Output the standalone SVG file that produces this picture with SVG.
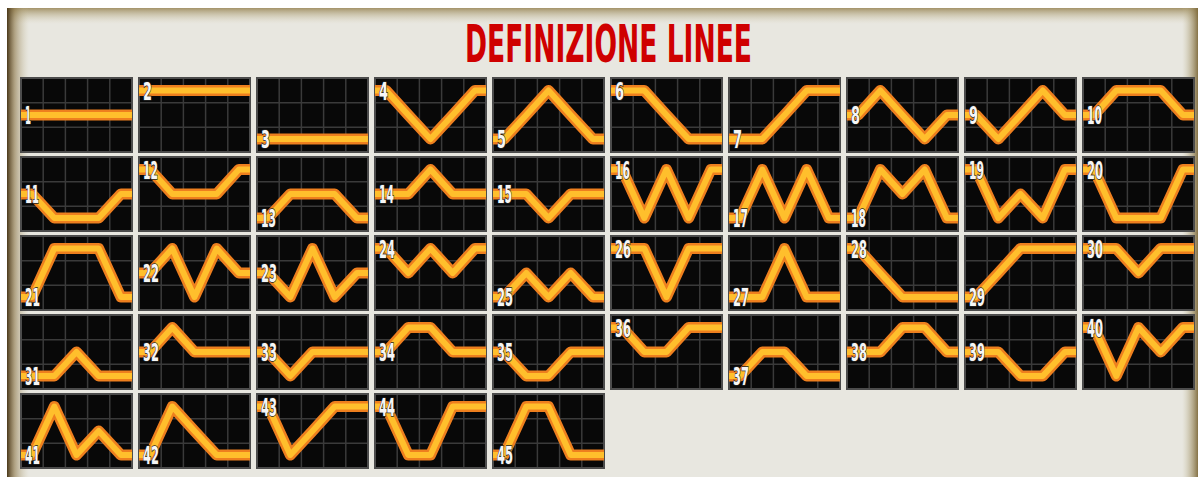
<svg xmlns="http://www.w3.org/2000/svg" xmlns:xlink="http://www.w3.org/1999/xlink" width="1201" height="477" viewBox="0 0 1201 477">
<style>
.o{fill:none;stroke:#ee7f1e;stroke-width:11;stroke-linejoin:round}
.i{fill:none;stroke:#ffbf2c;stroke-width:6;stroke-linejoin:round}
.n{font-family:"DejaVu Sans","Liberation Sans",sans-serif;font-weight:bold;font-size:24px;fill:#f6f6f6;stroke:#222222;stroke-width:1.6;paint-order:stroke}
.t{font-family:"DejaVu Sans","Liberation Sans",sans-serif;font-weight:bold;font-size:52px;fill:#cf0000}
</style>
<defs>
<linearGradient id="gl" x1="0" y1="0" x2="1" y2="0">
<stop offset="0" stop-color="#4a381a" stop-opacity="1"/>
<stop offset="0.35" stop-color="#8a7445" stop-opacity="0.6"/>
<stop offset="1" stop-color="#c9bf9a" stop-opacity="0"/>
</linearGradient>
<linearGradient id="gr" x1="1" y1="0" x2="0" y2="0">
<stop offset="0" stop-color="#7a6535" stop-opacity="0.9"/>
<stop offset="1" stop-color="#c9bf9a" stop-opacity="0"/>
</linearGradient>
<linearGradient id="gt" x1="0" y1="0" x2="0" y2="1">
<stop offset="0" stop-color="#9c8a5c" stop-opacity="0.9"/>
<stop offset="1" stop-color="#d8d2b8" stop-opacity="0"/>
</linearGradient>
<symbol id="tile" overflow="visible">
<rect x="0" y="0" width="111" height="74" fill="#080808"/>
<path d="M22.2 0V74M44.4 0V74M66.6 0V74M88.8 0V74M0 24.67H111M0 49.33H111" stroke="#3a3a3a" stroke-width="1.5" fill="none"/>
<rect x="0" y="0" width="111" height="74" fill="none" stroke="#4c4c4c" stroke-width="2"/>
</symbol>
</defs>
<rect x="0" y="0" width="1201" height="477" fill="#ffffff"/>
<rect x="7" y="8" width="1191" height="469" fill="#e8e7e0"/>
<rect x="7" y="8" width="1191" height="16" fill="url(#gt)"/>
<rect x="7" y="8" width="22" height="469" fill="url(#gl)"/>
<rect x="1182" y="8" width="16" height="469" fill="url(#gr)"/>
<text class="t" x="608.5" y="62" text-anchor="middle" textLength="287" lengthAdjust="spacingAndGlyphs">DEFINIZIONE LINEE</text>
<g id="lines">
<g id="line-1" transform="translate(21,78)"><use href="#tile"/><path class="o" d="M0 37H11.1L33.3 37L55.5 37L77.7 37L99.9 37H111"/><path class="i" d="M0 37H11.1L33.3 37L55.5 37L77.7 37L99.9 37H111"/><text class="n" x="4" y="46" textLength="6" lengthAdjust="spacingAndGlyphs">1</text></g>
<g id="line-2" transform="translate(139,78)"><use href="#tile"/><path class="o" d="M0 12.5H11.1L33.3 12.5L55.5 12.5L77.7 12.5L99.9 12.5H111"/><path class="i" d="M0 12.5H11.1L33.3 12.5L55.5 12.5L77.7 12.5L99.9 12.5H111"/><text class="n" x="4" y="21.5" textLength="9" lengthAdjust="spacingAndGlyphs">2</text></g>
<g id="line-3" transform="translate(257,78)"><use href="#tile"/><path class="o" d="M0 61H11.1L33.3 61L55.5 61L77.7 61L99.9 61H111"/><path class="i" d="M0 61H11.1L33.3 61L55.5 61L77.7 61L99.9 61H111"/><text class="n" x="4" y="70" textLength="9" lengthAdjust="spacingAndGlyphs">3</text></g>
<g id="line-4" transform="translate(375,78)"><use href="#tile"/><path class="o" d="M0 12.5H11.1L33.3 37L55.5 61L77.7 37L99.9 12.5H111"/><path class="i" d="M0 12.5H11.1L33.3 37L55.5 61L77.7 37L99.9 12.5H111"/><text class="n" x="4" y="21.5" textLength="9" lengthAdjust="spacingAndGlyphs">4</text></g>
<g id="line-5" transform="translate(493,78)"><use href="#tile"/><path class="o" d="M0 61H11.1L33.3 37L55.5 12.5L77.7 37L99.9 61H111"/><path class="i" d="M0 61H11.1L33.3 37L55.5 12.5L77.7 37L99.9 61H111"/><text class="n" x="4" y="70" textLength="9" lengthAdjust="spacingAndGlyphs">5</text></g>
<g id="line-6" transform="translate(611,78)"><use href="#tile"/><path class="o" d="M0 12.5H11.1L33.3 12.5L55.5 37L77.7 61L99.9 61H111"/><path class="i" d="M0 12.5H11.1L33.3 12.5L55.5 37L77.7 61L99.9 61H111"/><text class="n" x="4" y="21.5" textLength="9" lengthAdjust="spacingAndGlyphs">6</text></g>
<g id="line-7" transform="translate(729,78)"><use href="#tile"/><path class="o" d="M0 61H11.1L33.3 61L55.5 37L77.7 12.5L99.9 12.5H111"/><path class="i" d="M0 61H11.1L33.3 61L55.5 37L77.7 12.5L99.9 12.5H111"/><text class="n" x="4" y="70" textLength="9" lengthAdjust="spacingAndGlyphs">7</text></g>
<g id="line-8" transform="translate(847,78)"><use href="#tile"/><path class="o" d="M0 37H11.1L33.3 12.5L55.5 37L77.7 61L99.9 37H111"/><path class="i" d="M0 37H11.1L33.3 12.5L55.5 37L77.7 61L99.9 37H111"/><text class="n" x="4" y="46" textLength="9" lengthAdjust="spacingAndGlyphs">8</text></g>
<g id="line-9" transform="translate(965,78)"><use href="#tile"/><path class="o" d="M0 37H11.1L33.3 61L55.5 37L77.7 12.5L99.9 37H111"/><path class="i" d="M0 37H11.1L33.3 61L55.5 37L77.7 12.5L99.9 37H111"/><text class="n" x="4" y="46" textLength="9" lengthAdjust="spacingAndGlyphs">9</text></g>
<g id="line-10" transform="translate(1083,78)"><use href="#tile"/><path class="o" d="M0 37H11.1L33.3 12.5L55.5 12.5L77.7 12.5L99.9 37H111"/><path class="i" d="M0 37H11.1L33.3 12.5L55.5 12.5L77.7 12.5L99.9 37H111"/><text class="n" x="4" y="46" textLength="15" lengthAdjust="spacingAndGlyphs">10</text></g>
<g id="line-11" transform="translate(21,157)"><use href="#tile"/><path class="o" d="M0 37H11.1L33.3 61L55.5 61L77.7 61L99.9 37H111"/><path class="i" d="M0 37H11.1L33.3 61L55.5 61L77.7 61L99.9 37H111"/><text class="n" x="4" y="46" textLength="14" lengthAdjust="spacingAndGlyphs">11</text></g>
<g id="line-12" transform="translate(139,157)"><use href="#tile"/><path class="o" d="M0 12.5H11.1L33.3 37L55.5 37L77.7 37L99.9 12.5H111"/><path class="i" d="M0 12.5H11.1L33.3 37L55.5 37L77.7 37L99.9 12.5H111"/><text class="n" x="4" y="21.5" textLength="15" lengthAdjust="spacingAndGlyphs">12</text></g>
<g id="line-13" transform="translate(257,157)"><use href="#tile"/><path class="o" d="M0 61H11.1L33.3 37L55.5 37L77.7 37L99.9 61H111"/><path class="i" d="M0 61H11.1L33.3 37L55.5 37L77.7 37L99.9 61H111"/><text class="n" x="4" y="70" textLength="15" lengthAdjust="spacingAndGlyphs">13</text></g>
<g id="line-14" transform="translate(375,157)"><use href="#tile"/><path class="o" d="M0 37H11.1L33.3 37L55.5 12.5L77.7 37L99.9 37H111"/><path class="i" d="M0 37H11.1L33.3 37L55.5 12.5L77.7 37L99.9 37H111"/><text class="n" x="4" y="46" textLength="15" lengthAdjust="spacingAndGlyphs">14</text></g>
<g id="line-15" transform="translate(493,157)"><use href="#tile"/><path class="o" d="M0 37H11.1L33.3 37L55.5 61L77.7 37L99.9 37H111"/><path class="i" d="M0 37H11.1L33.3 37L55.5 61L77.7 37L99.9 37H111"/><text class="n" x="4" y="46" textLength="15" lengthAdjust="spacingAndGlyphs">15</text></g>
<g id="line-16" transform="translate(611,157)"><use href="#tile"/><path class="o" d="M0 12.5H11.1L33.3 61L55.5 12.5L77.7 61L99.9 12.5H111"/><path class="i" d="M0 12.5H11.1L33.3 61L55.5 12.5L77.7 61L99.9 12.5H111"/><text class="n" x="4" y="21.5" textLength="15" lengthAdjust="spacingAndGlyphs">16</text></g>
<g id="line-17" transform="translate(729,157)"><use href="#tile"/><path class="o" d="M0 61H11.1L33.3 12.5L55.5 61L77.7 12.5L99.9 61H111"/><path class="i" d="M0 61H11.1L33.3 12.5L55.5 61L77.7 12.5L99.9 61H111"/><text class="n" x="4" y="70" textLength="15" lengthAdjust="spacingAndGlyphs">17</text></g>
<g id="line-18" transform="translate(847,157)"><use href="#tile"/><path class="o" d="M0 61H11.1L33.3 12.5L55.5 37L77.7 12.5L99.9 61H111"/><path class="i" d="M0 61H11.1L33.3 12.5L55.5 37L77.7 12.5L99.9 61H111"/><text class="n" x="4" y="70" textLength="15" lengthAdjust="spacingAndGlyphs">18</text></g>
<g id="line-19" transform="translate(965,157)"><use href="#tile"/><path class="o" d="M0 12.5H11.1L33.3 61L55.5 37L77.7 61L99.9 12.5H111"/><path class="i" d="M0 12.5H11.1L33.3 61L55.5 37L77.7 61L99.9 12.5H111"/><text class="n" x="4" y="21.5" textLength="15" lengthAdjust="spacingAndGlyphs">19</text></g>
<g id="line-20" transform="translate(1083,157)"><use href="#tile"/><path class="o" d="M0 12.5H11.1L33.3 61L55.5 61L77.7 61L99.9 12.5H111"/><path class="i" d="M0 12.5H11.1L33.3 61L55.5 61L77.7 61L99.9 12.5H111"/><text class="n" x="4" y="21.5" textLength="16" lengthAdjust="spacingAndGlyphs">20</text></g>
<g id="line-21" transform="translate(21,236)"><use href="#tile"/><path class="o" d="M0 61H11.1L33.3 12.5L55.5 12.5L77.7 12.5L99.9 61H111"/><path class="i" d="M0 61H11.1L33.3 12.5L55.5 12.5L77.7 12.5L99.9 61H111"/><text class="n" x="4" y="70" textLength="15" lengthAdjust="spacingAndGlyphs">21</text></g>
<g id="line-22" transform="translate(139,236)"><use href="#tile"/><path class="o" d="M0 37H11.1L33.3 12.5L55.5 61L77.7 12.5L99.9 37H111"/><path class="i" d="M0 37H11.1L33.3 12.5L55.5 61L77.7 12.5L99.9 37H111"/><text class="n" x="4" y="46" textLength="16" lengthAdjust="spacingAndGlyphs">22</text></g>
<g id="line-23" transform="translate(257,236)"><use href="#tile"/><path class="o" d="M0 37H11.1L33.3 61L55.5 12.5L77.7 61L99.9 37H111"/><path class="i" d="M0 37H11.1L33.3 61L55.5 12.5L77.7 61L99.9 37H111"/><text class="n" x="4" y="46" textLength="16" lengthAdjust="spacingAndGlyphs">23</text></g>
<g id="line-24" transform="translate(375,236)"><use href="#tile"/><path class="o" d="M0 12.5H11.1L33.3 37L55.5 12.5L77.7 37L99.9 12.5H111"/><path class="i" d="M0 12.5H11.1L33.3 37L55.5 12.5L77.7 37L99.9 12.5H111"/><text class="n" x="4" y="21.5" textLength="16" lengthAdjust="spacingAndGlyphs">24</text></g>
<g id="line-25" transform="translate(493,236)"><use href="#tile"/><path class="o" d="M0 61H11.1L33.3 37L55.5 61L77.7 37L99.9 61H111"/><path class="i" d="M0 61H11.1L33.3 37L55.5 61L77.7 37L99.9 61H111"/><text class="n" x="4" y="70" textLength="16" lengthAdjust="spacingAndGlyphs">25</text></g>
<g id="line-26" transform="translate(611,236)"><use href="#tile"/><path class="o" d="M0 12.5H11.1L33.3 12.5L55.5 61L77.7 12.5L99.9 12.5H111"/><path class="i" d="M0 12.5H11.1L33.3 12.5L55.5 61L77.7 12.5L99.9 12.5H111"/><text class="n" x="4" y="21.5" textLength="16" lengthAdjust="spacingAndGlyphs">26</text></g>
<g id="line-27" transform="translate(729,236)"><use href="#tile"/><path class="o" d="M0 61H11.1L33.3 61L55.5 12.5L77.7 61L99.9 61H111"/><path class="i" d="M0 61H11.1L33.3 61L55.5 12.5L77.7 61L99.9 61H111"/><text class="n" x="4" y="70" textLength="16" lengthAdjust="spacingAndGlyphs">27</text></g>
<g id="line-28" transform="translate(847,236)"><use href="#tile"/><path class="o" d="M0 12.5H11.1L33.3 37L55.5 61L77.7 61L99.9 61H111"/><path class="i" d="M0 12.5H11.1L33.3 37L55.5 61L77.7 61L99.9 61H111"/><text class="n" x="4" y="21.5" textLength="16" lengthAdjust="spacingAndGlyphs">28</text></g>
<g id="line-29" transform="translate(965,236)"><use href="#tile"/><path class="o" d="M0 61H11.1L33.3 37L55.5 12.5L77.7 12.5L99.9 12.5H111"/><path class="i" d="M0 61H11.1L33.3 37L55.5 12.5L77.7 12.5L99.9 12.5H111"/><text class="n" x="4" y="70" textLength="16" lengthAdjust="spacingAndGlyphs">29</text></g>
<g id="line-30" transform="translate(1083,236)"><use href="#tile"/><path class="o" d="M0 12.5H11.1L33.3 12.5L55.5 37L77.7 12.5L99.9 12.5H111"/><path class="i" d="M0 12.5H11.1L33.3 12.5L55.5 37L77.7 12.5L99.9 12.5H111"/><text class="n" x="4" y="21.5" textLength="16" lengthAdjust="spacingAndGlyphs">30</text></g>
<g id="line-31" transform="translate(21,315)"><use href="#tile"/><path class="o" d="M0 61H11.1L33.3 61L55.5 37L77.7 61L99.9 61H111"/><path class="i" d="M0 61H11.1L33.3 61L55.5 37L77.7 61L99.9 61H111"/><text class="n" x="4" y="70" textLength="15" lengthAdjust="spacingAndGlyphs">31</text></g>
<g id="line-32" transform="translate(139,315)"><use href="#tile"/><path class="o" d="M0 37H11.1L33.3 12.5L55.5 37L77.7 37L99.9 37H111"/><path class="i" d="M0 37H11.1L33.3 12.5L55.5 37L77.7 37L99.9 37H111"/><text class="n" x="4" y="46" textLength="16" lengthAdjust="spacingAndGlyphs">32</text></g>
<g id="line-33" transform="translate(257,315)"><use href="#tile"/><path class="o" d="M0 37H11.1L33.3 61L55.5 37L77.7 37L99.9 37H111"/><path class="i" d="M0 37H11.1L33.3 61L55.5 37L77.7 37L99.9 37H111"/><text class="n" x="4" y="46" textLength="16" lengthAdjust="spacingAndGlyphs">33</text></g>
<g id="line-34" transform="translate(375,315)"><use href="#tile"/><path class="o" d="M0 37H11.1L33.3 12.5L55.5 12.5L77.7 37L99.9 37H111"/><path class="i" d="M0 37H11.1L33.3 12.5L55.5 12.5L77.7 37L99.9 37H111"/><text class="n" x="4" y="46" textLength="16" lengthAdjust="spacingAndGlyphs">34</text></g>
<g id="line-35" transform="translate(493,315)"><use href="#tile"/><path class="o" d="M0 37H11.1L33.3 61L55.5 61L77.7 37L99.9 37H111"/><path class="i" d="M0 37H11.1L33.3 61L55.5 61L77.7 37L99.9 37H111"/><text class="n" x="4" y="46" textLength="16" lengthAdjust="spacingAndGlyphs">35</text></g>
<g id="line-36" transform="translate(611,315)"><use href="#tile"/><path class="o" d="M0 12.5H11.1L33.3 37L55.5 37L77.7 12.5L99.9 12.5H111"/><path class="i" d="M0 12.5H11.1L33.3 37L55.5 37L77.7 12.5L99.9 12.5H111"/><text class="n" x="4" y="21.5" textLength="16" lengthAdjust="spacingAndGlyphs">36</text></g>
<g id="line-37" transform="translate(729,315)"><use href="#tile"/><path class="o" d="M0 61H11.1L33.3 37L55.5 37L77.7 61L99.9 61H111"/><path class="i" d="M0 61H11.1L33.3 37L55.5 37L77.7 61L99.9 61H111"/><text class="n" x="4" y="70" textLength="16" lengthAdjust="spacingAndGlyphs">37</text></g>
<g id="line-38" transform="translate(847,315)"><use href="#tile"/><path class="o" d="M0 37H11.1L33.3 37L55.5 12.5L77.7 12.5L99.9 37H111"/><path class="i" d="M0 37H11.1L33.3 37L55.5 12.5L77.7 12.5L99.9 37H111"/><text class="n" x="4" y="46" textLength="16" lengthAdjust="spacingAndGlyphs">38</text></g>
<g id="line-39" transform="translate(965,315)"><use href="#tile"/><path class="o" d="M0 37H11.1L33.3 37L55.5 61L77.7 61L99.9 37H111"/><path class="i" d="M0 37H11.1L33.3 37L55.5 61L77.7 61L99.9 37H111"/><text class="n" x="4" y="46" textLength="16" lengthAdjust="spacingAndGlyphs">39</text></g>
<g id="line-40" transform="translate(1083,315)"><use href="#tile"/><path class="o" d="M0 12.5H11.1L33.3 61L55.5 12.5L77.7 37L99.9 12.5H111"/><path class="i" d="M0 12.5H11.1L33.3 61L55.5 12.5L77.7 37L99.9 12.5H111"/><text class="n" x="4" y="21.5" textLength="16" lengthAdjust="spacingAndGlyphs">40</text></g>
<g id="line-41" transform="translate(21,394)"><use href="#tile"/><path class="o" d="M0 61H11.1L33.3 12.5L55.5 61L77.7 37L99.9 61H111"/><path class="i" d="M0 61H11.1L33.3 12.5L55.5 61L77.7 37L99.9 61H111"/><text class="n" x="4" y="70" textLength="15" lengthAdjust="spacingAndGlyphs">41</text></g>
<g id="line-42" transform="translate(139,394)"><use href="#tile"/><path class="o" d="M0 61H11.1L33.3 12.5L55.5 37L77.7 61L99.9 61H111"/><path class="i" d="M0 61H11.1L33.3 12.5L55.5 37L77.7 61L99.9 61H111"/><text class="n" x="4" y="70" textLength="16" lengthAdjust="spacingAndGlyphs">42</text></g>
<g id="line-43" transform="translate(257,394)"><use href="#tile"/><path class="o" d="M0 12.5H11.1L33.3 61L55.5 37L77.7 12.5L99.9 12.5H111"/><path class="i" d="M0 12.5H11.1L33.3 61L55.5 37L77.7 12.5L99.9 12.5H111"/><text class="n" x="4" y="21.5" textLength="16" lengthAdjust="spacingAndGlyphs">43</text></g>
<g id="line-44" transform="translate(375,394)"><use href="#tile"/><path class="o" d="M0 12.5H11.1L33.3 61L55.5 61L77.7 12.5L99.9 12.5H111"/><path class="i" d="M0 12.5H11.1L33.3 61L55.5 61L77.7 12.5L99.9 12.5H111"/><text class="n" x="4" y="21.5" textLength="16" lengthAdjust="spacingAndGlyphs">44</text></g>
<g id="line-45" transform="translate(493,394)"><use href="#tile"/><path class="o" d="M0 61H11.1L33.3 12.5L55.5 12.5L77.7 61L99.9 61H111"/><path class="i" d="M0 61H11.1L33.3 12.5L55.5 12.5L77.7 61L99.9 61H111"/><text class="n" x="4" y="70" textLength="16" lengthAdjust="spacingAndGlyphs">45</text></g>
</g>
</svg>
